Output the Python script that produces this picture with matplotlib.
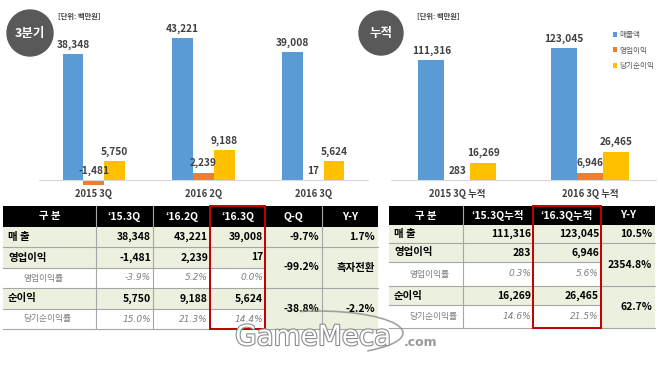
import matplotlib.pyplot as plt
import matplotlib.patheffects as pe
from matplotlib.patches import Rectangle, Circle, Arc

plt.rcParams["font.family"] = ["Noto Sans CJK KR", "DejaVu Sans"]

# chart data
series_names = ["매출액", "영업이익", "당기순이익"]
quarters = ["2015 3Q", "2016 2Q", "2016 3Q"]
q_sales = [38348, 43221, 39008]
q_op = [-1481, 2239, 17]
q_net = [5750, 9188, 5624]
cum_periods = ["2015 3Q 누적", "2016 3Q 누적"]
cum_sales = [111316, 123045]
cum_op = [283, 6946]
cum_net = [16269, 26465]

# table data
row_labels = ["매 출", "영업이익", "영업이익률", "순이익", "당기순이익률"]
q_headers = ["구 분", "‘15.3Q", "‘16.2Q", "‘16.3Q", "Q-Q", "Y-Y"]
q_op_margin = [-3.9, 5.2, 0.0]
q_net_margin = [15.0, 21.3, 14.4]
q_qq = ["-9.7%", "-99.2%", "-38.8%"]
q_yy = ["1.7%", "흑자전환", "-2.2%"]
cum_headers = ["구 분", "‘15.3Q누적", "‘16.3Q누적", "Y-Y"]
cum_op_margin = [0.3, 5.6]
cum_net_margin = [14.6, 21.5]
cum_yy = ["10.5%", "2354.8%", "62.7%"]

COLORS = ("#5B9BD5", "#ED7D31", "#FFC000")
TXT = "#404040"
GREEN = "#EBF1DE"
W, H = 660, 367

fig = plt.figure(figsize=(W / 100, H / 100), dpi=100)


def px_axes(x0, y0, x1, y1, **kw):
    return fig.add_axes([x0 / W, 1 - y1 / H, (x1 - x0) / W, (y1 - y0) / H], **kw)


def bar_chart(ax, cats, values, width, ylim):
    x = list(range(len(cats)))
    for k, (vals, color) in enumerate(zip(values, COLORS)):
        bars = ax.bar([i + (k - 1) * width for i in x], vals, width,
                      color=color, label=series_names[k])
        for bar, v in zip(bars, vals):
            ax.annotate(f"{v:,}", (bar.get_x() + bar.get_width() / 2, max(v, 0)),
                        xytext=(0, 3), textcoords="offset points",
                        ha="center", va="bottom", fontsize=7.3,
                        fontweight="bold", color=TXT)
    ax.set_xlim(-0.5, len(cats) - 0.5)
    ax.set_ylim(*ylim)
    ax.set_yticks([])
    for side in ("top", "left", "right"):
        ax.spines[side].set_visible(False)
    ax.spines["bottom"].set_position(("data", 0))
    ax.spines["bottom"].set_color("#D9D9D9")
    # ticks after moving the spine, or the label styling is reset
    ax.set_xticks(x)
    ax.set_xticklabels(cats, fontsize=6.8, fontweight="bold", color=TXT)
    ax.tick_params(axis="x", length=0, pad=6.5)
    ax.patch.set_visible(False)


ax1 = px_axes(39, 20, 368, 200)
bar_chart(ax1, quarters, [q_sales, q_op, q_net], 0.19, (-6100, 48700))
ax2 = px_axes(391, 20, 656, 200)
bar_chart(ax2, cum_periods, [cum_sales, cum_op, cum_net], 0.196, (-18600, 149000))
ax2.legend(loc="upper left", bbox_to_anchor=(606 / W, 1 - 24 / H),
           bbox_transform=fig.transFigure, frameon=False, fontsize=5.5,
           handlelength=0.6, handleheight=0.6, handletextpad=0.3,
           labelspacing=1.0, labelcolor="#595959")

ov = px_axes(0, 0, W, H, zorder=5)
ov.set_xlim(0, W)
ov.set_ylim(H, 0)
ov.axis("off")
ov.patch.set_visible(False)

for (cx, cy, r), label in [((30, 33, 23), "3분기"), ((381, 33, 22), "누적")]:
    ov.add_patch(Circle((cx, cy), r, color="#595959"))
    ov.text(cx, cy, label, color="white", fontsize=9, fontweight="bold",
            ha="center", va="center")
for x in (58, 417):
    ov.text(x, 17, "[단위: 백만원]", fontsize=5.2, fontweight="bold",
            color=TXT, ha="left", va="center")


def draw_table(col_x, row_y, headers, data_cols, merged_cols, red_col):
    ratio_rows = {2, 4}
    n_data = len(data_cols)
    # header
    for c in range(len(headers)):
        x0, x1 = col_x[c], col_x[c + 1]
        ov.add_patch(Rectangle((x0, row_y[0]), x1 - x0, row_y[1] - row_y[0],
                               color="black", lw=0))
        ov.text((x0 + x1) / 2, (row_y[0] + row_y[1]) / 2, headers[c],
                color="white", fontsize=7.5, fontweight="bold",
                ha="center", va="center")
    # label + data columns
    for r, label in enumerate(row_labels):
        y0, y1 = row_y[r + 1], row_y[r + 2]
        ym = (y0 + y1) / 2
        fill = "white" if r in ratio_rows else GREEN
        ov.add_patch(Rectangle((col_x[0], y0), col_x[1 + n_data] - col_x[0],
                               y1 - y0, color=fill, lw=0))
        if r in ratio_rows:
            ov.text(col_x[0] + 20, ym, label, fontsize=6.3, color="#808080",
                    style="italic", ha="left", va="center")
        else:
            ov.text(col_x[0] + 5, ym, label, fontsize=7.5, fontweight="bold",
                    color="black", ha="left", va="center")
        for c, col in enumerate(data_cols):
            xr = col_x[c + 2] - 2
            if r in ratio_rows:
                ov.text(xr, ym, col[r], fontsize=6.5, color="#808080",
                        style="italic", ha="right", va="center",
                        family=["DejaVu Sans"])
            else:
                ov.text(xr, ym, col[r], fontsize=7.5, fontweight="bold",
                        color="black", ha="right", va="center")
        ov.plot([col_x[0], col_x[1 + n_data]], [y1, y1], color="#A6A6A6", lw=0.8)
    # merged columns
    spans = [(0, 1), (1, 3), (3, 5)]
    for m, vals in enumerate(merged_cols):
        c = 1 + n_data + m
        x0, x1 = col_x[c], col_x[c + 1]
        for (ra, rb), v in zip(spans, vals):
            y0, y1 = row_y[ra + 1], row_y[rb + 1]
            ov.add_patch(Rectangle((x0, y0), x1 - x0, y1 - y0, color=GREEN, lw=0))
            ov.text(x1 - 3, (y0 + y1) / 2, v, fontsize=7.5, fontweight="bold",
                    color="black", ha="right", va="center")
            ov.plot([x0, x1], [y1, y1], color="#A6A6A6", lw=0.8)
    for x in col_x[1:-1]:
        ov.plot([x, x], [row_y[0], row_y[-1]], color="#A6A6A6", lw=0.8)
    x0, x1 = col_x[red_col], col_x[red_col + 1]
    ov.add_patch(Rectangle((x0, row_y[0]), x1 - x0, row_y[-1] - row_y[0],
                           fill=False, edgecolor="#C00000", lw=1.4, zorder=6))


q_data = [[f"{s:,}", f"{o:,}", f"{om:.1f}%", f"{n:,}", f"{nm:.1f}%"]
          for s, o, om, n, nm in zip(q_sales, q_op, q_op_margin, q_net, q_net_margin)]
cum_data = [[f"{s:,}", f"{o:,}", f"{om:.1f}%", f"{n:,}", f"{nm:.1f}%"]
            for s, o, om, n, nm in zip(cum_sales, cum_op, cum_op_margin, cum_net, cum_net_margin)]

draw_table([3, 96, 153, 210, 265, 322, 378], [206, 227, 247, 268, 288, 309, 329],
           q_headers, q_data, [q_qq, q_yy], 3)
draw_table([389, 463, 533, 601, 655], [206, 225, 243, 262, 286, 305, 328],
           cum_headers, cum_data, [cum_yy], 2)

# watermark
ov.add_patch(Arc((318, 333), 170, 44, theta1=-130, theta2=20,
                 color="#8C8C8C", lw=1.2, alpha=0.8, zorder=7))
ov.text(313, 337, "GameMeca", fontsize=20, color="white", family="DejaVu Sans",
        ha="center", va="center", zorder=7,
        path_effects=[pe.withStroke(linewidth=1.6, foreground="#8C8C8C")])
ov.text(404, 342, ".com", fontsize=9, color="#9A9A9A", fontweight="bold",
        family="DejaVu Sans", ha="left", va="center", zorder=7)

fig.savefig("out.png", dpi=100)
